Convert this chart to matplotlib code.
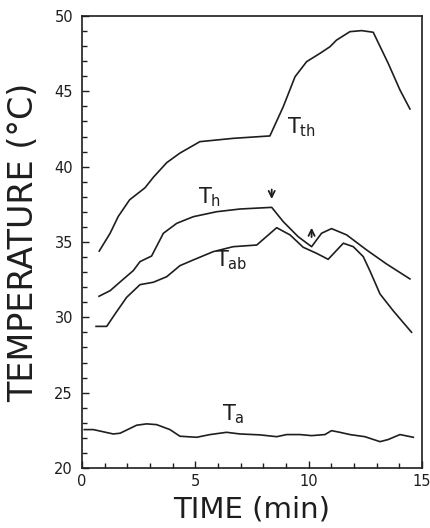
import matplotlib
matplotlib.use("Agg")
import matplotlib.pyplot as plt
from matplotlib.ticker import MultipleLocator

plt.rcParams['font.family'] = ['DejaVu Sans']
plt.rcParams['mathtext.default'] = 'regular'

# T_th
tth_x = [0.76, 1.24, 1.6, 2.1, 2.78, 3.15, 3.74, 4.32, 5.2, 6.67, 8.29,
         8.88, 9.4, 9.91, 10.5, 10.94, 11.23, 11.82, 12.34, 12.85, 13.51, 14.03, 14.47]
tth_y = [34.4, 35.58, 36.7, 37.8, 38.6, 39.3, 40.27, 40.9, 41.66, 41.88, 42.04,
         43.98, 45.97, 46.97, 47.52, 47.96, 48.4, 48.96, 49.03, 48.92, 46.86, 45.09, 43.83]

# T_h
th_x = [0.75, 1.24, 1.75, 2.26, 2.56, 3.07, 3.59, 4.18, 4.91, 5.94, 6.97, 8.37,
        8.88, 9.54, 10.13, 10.57, 11.01, 11.68, 12.56, 13.44, 14.47]
th_y = [31.4, 31.77, 32.44, 33.1, 33.7, 34.07, 35.58, 36.24, 36.68, 37.01, 37.19, 37.3,
        36.35, 35.35, 34.69, 35.58, 35.89, 35.47, 34.47, 33.54, 32.55]

# T_ab
tab_x = [0.62, 1.09, 1.46, 1.97, 2.56, 3.15, 3.74, 4.32, 4.91, 5.79, 6.67, 7.71,
         8.59, 9.18, 9.76, 10.35, 10.86, 11.53, 11.97, 12.41, 12.7, 13.15, 13.73, 14.54]
tab_y = [29.4, 29.4, 30.23, 31.33, 32.17, 32.33, 32.7, 33.43, 33.81, 34.36, 34.69, 34.8,
         35.95, 35.47, 34.65, 34.25, 33.85, 34.92, 34.69, 34.03, 33.1, 31.55, 30.44, 29.01]

# T_a
ta_x = [0.1, 0.5, 1.38, 1.68, 2.41, 2.85, 3.29, 3.88, 4.32, 5.06, 5.65, 6.38, 6.97,
        7.85, 8.59, 9.03, 9.62, 10.13, 10.72, 11.01, 11.38, 11.82, 12.48, 13.15, 13.51,
        14.03, 14.62]
ta_y = [22.55, 22.55, 22.26, 22.31, 22.84, 22.93, 22.88, 22.55, 22.11, 22.04, 22.22, 22.37,
        22.26, 22.2, 22.08, 22.22, 22.22, 22.15, 22.22, 22.48, 22.37, 22.22, 22.08, 21.75,
        21.89, 22.22, 22.04]

xticks = [0, 5, 10, 15]
yticks = [20, 25, 30, 35, 40, 45, 50]

ink = '#1e1e1e'

fig = plt.figure(figsize=(4.31, 5.28), dpi=100)
ax = fig.add_axes([0.1903, 0.1136, 0.7887, 0.8561])

for xs, ys in [(tth_x, tth_y), (th_x, th_y), (tab_x, tab_y), (ta_x, ta_y)]:
    ax.plot(xs, ys, color=ink, lw=1.2)

ax.set_xlim(0, 15)
ax.set_ylim(20, 50)
ax.set_xticks(xticks)
ax.set_yticks(yticks)
ax.xaxis.set_minor_locator(MultipleLocator(1))
ax.yaxis.set_minor_locator(MultipleLocator(1))
ax.tick_params(which='both', direction='in', top=False, right=False, color=ink,
               labelsize=10.5, labelcolor=ink, width=1.0)
ax.tick_params(which='major', length=5)
ax.tick_params(which='minor', length=3.5)
ax.tick_params(axis='x', pad=4)
ax.tick_params(axis='y', pad=6.5)
for s in ax.spines.values():
    s.set_linewidth(1.2)
    s.set_color(ink)

ax.set_xlabel('TIME (min)', fontsize=21, color=ink, labelpad=5)
ax.set_ylabel('TEMPERATURE (°C)', fontsize=24, color=ink, labelpad=10)

lab_kw = dict(fontsize=15, color=ink, ha='left', va='baseline')
ax.text(9.04, 42.24, r'T$_{th}$', **lab_kw)
ax.text(5.13, 37.57, r'T$_{h}$', **lab_kw)
ax.text(5.87, 33.36, r'T$_{ab}$', **lab_kw)
ax.text(6.16, 23.15, r'T$_{a}$', **lab_kw)

arr = dict(arrowstyle='->', lw=1.3, color=ink, mutation_scale=11)
ax.annotate('', xy=(8.37, 37.67), xytext=(8.37, 38.67), arrowprops=arr)
ax.annotate('', xy=(10.13, 36.13), xytext=(10.13, 35.14), arrowprops=arr)

fig.savefig('out.png', dpi=100)
